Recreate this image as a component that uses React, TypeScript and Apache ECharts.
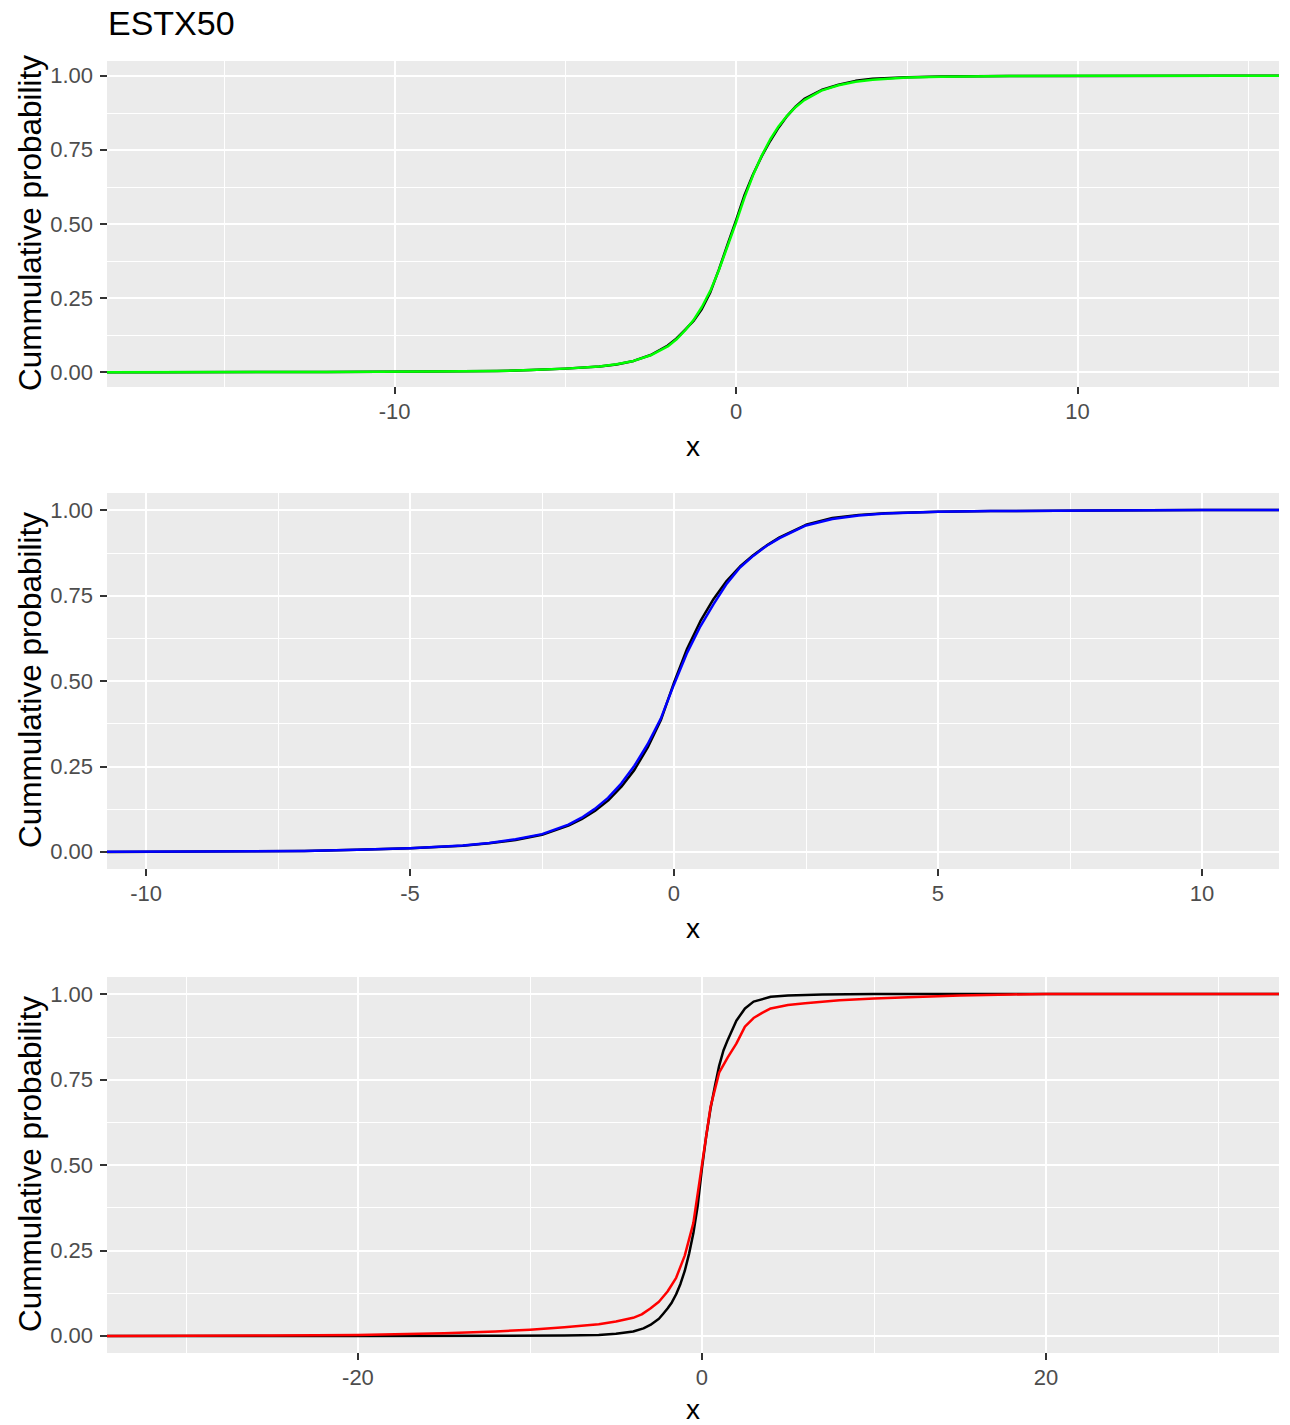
import React, { useEffect, useRef } from "react";
import * as echarts from "echarts";

const FONT = "'Liberation Sans', Arial, Helvetica, sans-serif";

// ---- axes ----
const X_MIN = [-18.42, -10.74, -34.59];
const X_MAX = [15.9, 11.46, 33.55];
const X_MAJOR = [
  [-10, 0, 10],
  [-10, -5, 0, 5, 10],
  [-20, 0, 20],
];
const X_MINOR = [
  [-15, -5, 5, 15],
  [-7.5, -2.5, 2.5, 7.5],
  [-30, -10, 10, 30],
];
const Y_MAJOR = [0, 0.25, 0.5, 0.75, 1];
const Y_MINOR = [0.125, 0.375, 0.625, 0.875];

const TITLE = "ESTX50";
const Y_TITLE = "Cummulative probability";
const X_TITLE = "x";

// ---- panel 1 (ESTX50): empirical (black) vs fitted (green) ----
const p1EmpX = [-18.42, -16.9, -12, -9, -7, -6, -5, -4, -3.5, -3, -2.5, -2, -1.75, -1.5, -1.25, -1, -0.75, -0.5, -0.25, 0, 0.25, 0.5, 0.75, 1, 1.25, 1.5, 1.75, 2, 2.5, 3, 3.5, 4, 5, 6, 8, 10, 14.3, 15.9];
const p1EmpP = [0, 0, 0.0005, 0.002, 0.004, 0.007, 0.012, 0.019, 0.026, 0.038, 0.058, 0.09, 0.113, 0.142, 0.172, 0.213, 0.27, 0.347, 0.43, 0.512, 0.598, 0.668, 0.728, 0.78, 0.826, 0.865, 0.897, 0.922, 0.952, 0.97, 0.983, 0.99, 0.995, 0.998, 0.999, 0.9995, 1, 1];
const p1FitX = [-18.42, -12, -9, -7, -6, -5, -4, -3.5, -3, -2.5, -2, -1.75, -1.5, -1.25, -1, -0.75, -0.5, -0.25, 0, 0.25, 0.5, 0.75, 1, 1.25, 1.5, 1.75, 2, 2.5, 3, 3.5, 4, 5, 6, 8, 10, 15.9];
const p1FitP = [0, 0.0005, 0.002, 0.004, 0.007, 0.012, 0.019, 0.027, 0.038, 0.057, 0.087, 0.11, 0.14, 0.175, 0.22, 0.275, 0.345, 0.425, 0.505, 0.59, 0.665, 0.73, 0.785, 0.83, 0.866, 0.895, 0.918, 0.95, 0.968, 0.98, 0.987, 0.994, 0.997, 0.999, 1, 1];

// ---- panel 2: empirical (black) vs fitted (blue) ----
const p2EmpX = [-10.74, -9, -8, -7, -6, -5, -4, -3.5, -3, -2.5, -2, -1.75, -1.5, -1.25, -1, -0.75, -0.5, -0.25, 0, 0.25, 0.5, 0.75, 1, 1.25, 1.5, 1.75, 2, 2.5, 3, 3.5, 4, 5, 6, 8, 10, 11.46];
const p2EmpP = [0, 0.001, 0.002, 0.003, 0.006, 0.011, 0.018, 0.025, 0.035, 0.05, 0.077, 0.096, 0.12, 0.15, 0.19, 0.24, 0.305, 0.385, 0.495, 0.595, 0.675, 0.74, 0.793, 0.835, 0.868, 0.896, 0.92, 0.957, 0.977, 0.986, 0.991, 0.995, 0.997, 0.999, 1, 1];
const p2FitX = [-10.74, -9, -8, -7, -6, -5, -4, -3.5, -3, -2.5, -2, -1.75, -1.5, -1.25, -1, -0.75, -0.5, -0.25, 0, 0.25, 0.5, 0.75, 1, 1.25, 1.5, 1.75, 2, 2.5, 3, 3.5, 4, 5, 6, 8, 10, 11.46];
const p2FitP = [0.0005, 0.001, 0.002, 0.003, 0.006, 0.011, 0.019, 0.026, 0.037, 0.052, 0.08, 0.1, 0.126, 0.158, 0.2, 0.252, 0.315, 0.39, 0.49, 0.583, 0.66, 0.725, 0.785, 0.832, 0.866, 0.895, 0.918, 0.955, 0.974, 0.984, 0.99, 0.995, 0.997, 0.999, 1, 1];

// ---- panel 3: empirical (black) vs fitted (red) ----
const p3EmpX = [-34.59, -20, -12, -8, -6, -5, -4, -3.4, -3, -2.5, -2.25, -2, -1.75, -1.5, -1.25, -1, -0.75, -0.5, -0.25, 0, 0.25, 0.5, 0.75, 1, 1.25, 1.5, 2, 2.5, 3, 4, 5, 7, 10, 20, 33.55];
const p3EmpP = [0, 0, 0.0005, 0.001, 0.003, 0.006, 0.013, 0.022, 0.032, 0.05, 0.065, 0.08, 0.098, 0.122, 0.152, 0.19, 0.24, 0.3, 0.38, 0.49, 0.585, 0.665, 0.73, 0.79, 0.835, 0.866, 0.922, 0.958, 0.978, 0.992, 0.996, 0.999, 1, 1, 1];
const p3FitX = [-34.59, -30, -25, -20, -15, -12, -10, -8, -6, -5, -4, -3.5, -3, -2.5, -2, -1.5, -1, -0.5, 0, 0.5, 1, 1.5, 2, 2.5, 3, 3.5, 4, 5, 6, 8, 10, 12, 15, 18, 20, 25, 33.55];
const p3FitP = [0, 0.0005, 0.001, 0.003, 0.008, 0.013, 0.018, 0.025, 0.034, 0.042, 0.053, 0.063, 0.08, 0.1, 0.13, 0.17, 0.235, 0.33, 0.5, 0.67, 0.77, 0.815, 0.855, 0.905, 0.93, 0.945, 0.958, 0.968, 0.973, 0.982, 0.987, 0.991, 0.996, 0.999, 1, 1, 1];

const PANELS = [
  { empX: p1EmpX, empP: p1EmpP, fitX: p1FitX, fitP: p1FitP, color: "#00FF00" },
  { empX: p2EmpX, empP: p2EmpP, fitX: p2FitX, fitP: p2FitP, color: "#0000FF" },
  { empX: p3EmpX, empP: p3EmpP, fitX: p3FitX, fitP: p3FitP, color: "#FF0000" },
];

const GRID_TOP = [61, 493, 977];
const GRID_H = [326, 376, 376];
const GRID_LEFT = 107;
const GRID_RIGHT = 11;

function pairs(xs: number[], ps: number[]) {
  return xs.map((x, i) => [x, ps[i]]);
}

export default function App() {
  const ref = useRef<HTMLDivElement>(null);

  useEffect(() => {
    if (!ref.current) return;
    const chart = echarts.init(ref.current, undefined, { renderer: "svg" });

    const grids: any[] = [];
    const xAxes: any[] = [];
    const yAxes: any[] = [];
    const series: any[] = [];
    const graphics: any[] = [];

    const tickStyle = { color: "#333333", width: 2 };
    const labelStyle = { color: "#4D4D4D", fontSize: 22, fontFamily: FONT };

    for (let i = 0; i < 3; i++) {
      grids.push({
        left: GRID_LEFT,
        right: GRID_RIGHT,
        top: GRID_TOP[i],
        height: GRID_H[i],
        show: true,
        backgroundColor: "#EBEBEB",
        borderWidth: 0,
        containLabel: false,
      });
      // major x
      xAxes.push({
        type: "value",
        gridIndex: i,
        min: X_MIN[i],
        max: X_MAX[i],
        position: "bottom",
        axisLine: { show: false, onZero: false },
        axisTick: { show: true, inside: false, customValues: X_MAJOR[i], length: 7, lineStyle: tickStyle },
        axisLabel: { show: true, customValues: X_MAJOR[i], margin: 13, ...labelStyle },
        splitLine: { show: true, lineStyle: { color: "#FFFFFF", width: 2 } },
        z: 1,
      });
      // minor x
      xAxes.push({
        type: "value",
        gridIndex: i,
        min: X_MIN[i],
        max: X_MAX[i],
        position: "bottom",
        axisLine: { show: false, onZero: false },
        axisTick: { show: false, customValues: X_MINOR[i] },
        axisLabel: { show: false, customValues: X_MINOR[i] },
        splitLine: { show: true, lineStyle: { color: "#FFFFFF", width: 1 } },
        z: 0,
      });
      // major y
      yAxes.push({
        type: "value",
        gridIndex: i,
        min: -0.05,
        max: 1.05,
        position: "left",
        axisLine: { show: false, onZero: false },
        axisTick: { show: true, inside: false, customValues: Y_MAJOR, length: 7, lineStyle: tickStyle },
        axisLabel: {
          show: true,
          customValues: Y_MAJOR,
          margin: 14,
          formatter: (v: number) => v.toFixed(2),
          ...labelStyle,
        },
        splitLine: { show: true, lineStyle: { color: "#FFFFFF", width: 2 } },
        z: 1,
      });
      // minor y
      yAxes.push({
        type: "value",
        gridIndex: i,
        min: -0.05,
        max: 1.05,
        position: "left",
        axisLine: { show: false, onZero: false },
        axisTick: { show: false, customValues: Y_MINOR },
        axisLabel: { show: false, customValues: Y_MINOR },
        splitLine: { show: true, lineStyle: { color: "#FFFFFF", width: 1 } },
        z: 0,
      });

      const p = PANELS[i];
      series.push({
        type: "line",
        xAxisIndex: 2 * i,
        yAxisIndex: 2 * i,
        data: pairs(p.empX, p.empP),
        showSymbol: false,
        symbol: "none",
        lineStyle: { color: "#000000", width: 2.5, join: "round" },
        z: 3,
        silent: true,
      });
      series.push({
        type: "line",
        xAxisIndex: 2 * i,
        yAxisIndex: 2 * i,
        data: pairs(p.fitX, p.fitP),
        showSymbol: false,
        symbol: "none",
        lineStyle: { color: p.color, width: 2.5, join: "round" },
        z: 4,
        silent: true,
      });

      const bottom = GRID_TOP[i] + GRID_H[i];
      graphics.push({
        type: "text",
        x: 30,
        y: GRID_TOP[i] + GRID_H[i] / 2 - 1,
        rotation: Math.PI / 2,
        style: {
          text: Y_TITLE,
          fontSize: 31.5,
          fontFamily: FONT,
          fill: "#000000",
          align: "center",
          verticalAlign: "middle",
        },
      });
      graphics.push({
        type: "text",
        x: GRID_LEFT + (1290 - GRID_LEFT - GRID_RIGHT) / 2,
        y: Math.min(bottom + 59, 1409),
        style: {
          text: X_TITLE,
          fontSize: 28,
          fontFamily: FONT,
          fill: "#000000",
          align: "center",
          verticalAlign: "middle",
        },
      });
    }

    graphics.push({
      type: "text",
      x: 108,
      y: 23,
      style: {
        text: TITLE,
        fontSize: 34,
        fontFamily: FONT,
        fill: "#000000",
        align: "left",
        verticalAlign: "middle",
      },
    });

    chart.setOption({
      animation: false,
      backgroundColor: "#FFFFFF",
      grid: grids,
      xAxis: xAxes,
      yAxis: yAxes,
      series,
      graphic: graphics,
    });

    return () => chart.dispose();
  }, []);

  return (
    <div
      ref={ref}
      style={{ position: "absolute", left: 0, top: 0, width: 1290, height: 1425 }}
    />
  );
}
